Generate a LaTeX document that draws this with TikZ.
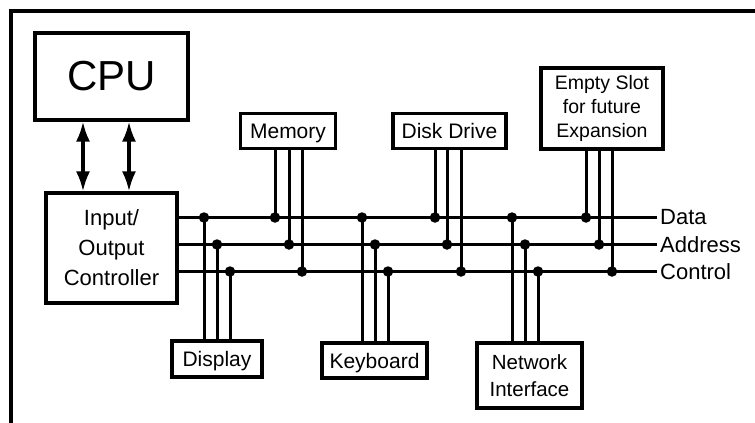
\documentclass[tikz,border=0pt]{standalone}
\usepackage{fontspec}
\setmainfont{Liberation Sans}
\usetikzlibrary{arrows.meta}
\begin{document}
\begin{tikzpicture}[x=1pt,y=-1pt,
 box/.style={draw,line width=3.1pt,inner sep=0pt,align=center,font=\fontsize{21}{27}\selectfont},
 one/.style={text height=15pt,text depth=0pt},
 bus/.style={line width=3.4pt},
 drop/.style={line width=3pt},
 dot/.style={circle,fill,inner sep=0pt,minimum size=10.5pt},
 lbl/.style={anchor=west,inner sep=0pt,font=\fontsize{22}{26}\selectfont},
 arr/.style={line width=3.2pt,{Latex[length=20pt,width=14pt]}-{Latex[length=20pt,width=14pt]}}]
\useasboundingbox (0,0) rectangle (755,423);
\draw[line width=3.2pt] (11,423) -- (11,11) -- (755,11);
% boxes
\node[box,minimum width=153pt,minimum height=87pt,font=\fontsize{42}{48}\selectfont] (cpu) at (111.5,76.5) {CPU};
\node[box,minimum width=131pt,minimum height=110pt,font=\fontsize{22}{30}\selectfont] (io) at (111.5,248) {Input/\\Output\\Controller};
\node[box,one,minimum width=95pt,minimum height=35pt] (mem) at (288,131) {Memory};
\node[box,one,minimum width=113pt,minimum height=35pt] (disk) at (449.5,131) {Disk Drive};
\node[box,minimum width=122pt,minimum height=81pt,font=\fontsize{19.5}{24}\selectfont] (empty) at (602,108.5) {Empty Slot\\for future\\Expansion};
\node[box,one,minimum width=90pt,minimum height=36pt] (disp) at (217,359) {Display};
\node[box,one,minimum width=105pt,minimum height=35pt] (kbd) at (374.5,360.5) {Keyboard};
\node[box,minimum width=105pt,minimum height=65pt,font=\fontsize{20.5}{27}\selectfont] (net) at (529.5,375.5) {Network\\Interface};
% labels
\node[lbl] (ldata) at (660,217.5) {Data};
\node[lbl] (laddr) at (660,244.5) {Address};
\node[lbl] (lctrl) at (660,271.5) {Control};
% buses
\draw[bus] (io.east |- ldata) -- ([xshift=-3pt]ldata.west);
\draw[bus] (io.east |- laddr) -- ([xshift=-3pt]laddr.west);
\draw[bus] (io.east |- lctrl) -- ([xshift=-3pt]lctrl.west);
% arrows
\draw[arr] (83,0 |- cpu.south) -- (83,0 |- io.north);
\draw[arr] (129,0 |- cpu.south) -- (129,0 |- io.north);
% dots and drops
\foreach \nm/\bx/\xd/\xa/\xc/\side in {disp/disp/204/217/230/north, mem/mem/275/289/302/south, kbd/kbd/362/375/388/north, disk/disk/435/447/461/south, net/net/512/525/538/north, emp/empty/586/599/612/south}{
  \node[dot] (\nm d) at (\xd,217.5) {};
  \node[dot] (\nm a) at (\xa,244.5) {};
  \node[dot] (\nm c) at (\xc,271.5) {};
  \draw[drop] (\bx.\side -| \nm d) -- (\nm d.center);
  \draw[drop] (\bx.\side -| \nm a) -- (\nm a.center);
  \draw[drop] (\bx.\side -| \nm c) -- (\nm c.center);
}
\end{tikzpicture}
\end{document}
